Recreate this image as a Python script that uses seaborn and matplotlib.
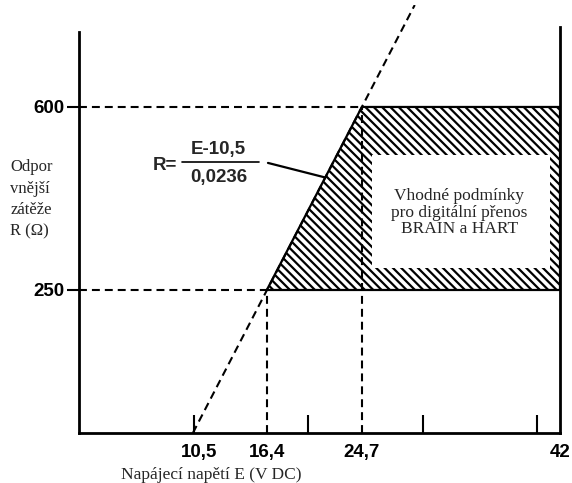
import matplotlib
matplotlib.use('Agg')
import matplotlib.pyplot as plt
import seaborn as sns

# Hodnoty
E_zero = 10.5        # napětí při R = 0
E_250 = 16.4         # napětí při R = 250 Ω
E_600 = 24.7         # napětí při R = 600 Ω
E_max = 42           # maximální napětí
R_low = 250
R_high = 600
E_ticks = [10.5, 16.4, 24.7, 42]
E_tick_labels = ['10,5', '16,4', '24,7', '42']
E_minor_ticks = [10, 20, 30, 40]
R_ticks = [250, 600]
R_tick_labels = ['250', '600']
box_E = [25.6, 41.1]     # bílé pole s textem
box_R = [292, 508]

x_lim = (0, 42)
y_lim = (-23.5, 795)

sns.set_theme(style='white')
plt.rcParams['hatch.linewidth'] = 1.6
plt.rcParams['hatch.color'] = 'black'
sans = ['Liberation Sans', 'DejaVu Sans']
serif = ['Liberation Serif', 'DejaVu Serif']
dash = (0, (3.8, 2.4))

fig = plt.figure(figsize=(5.72, 4.83), dpi=100)
ax = fig.add_axes([79 / 572, 50 / 483, 481 / 572, 428 / 483])
ax.set_xlim(*x_lim)
ax.set_ylim(*y_lim)


def line(xs, ys, style='-', lw=1.5, z=3):
    sns.lineplot(x=xs, y=ys, color='black', linestyle=style, linewidth=lw,
                 estimator=None, sort=False, ax=ax, zorder=z)


# šrafovaná oblast vhodných podmínek
ax.fill([E_250, E_600, E_max, E_max], [R_low, R_high, R_high, R_low],
        facecolor='white', edgecolor='black', hatch='\\\\\\\\', linewidth=1.6, zorder=2)
ax.fill([box_E[0], box_E[1], box_E[1], box_E[0]], [box_R[0], box_R[0], box_R[1], box_R[1]],
        facecolor='white', edgecolor='none', zorder=2.5)

# přímka R = (E - 10,5) / 0,0236
ax.axline((E_zero, 0), (E_600, R_high), color='black', linestyle=dash, linewidth=1.5, zorder=3)

# pomocné čáry
line([0, E_600], [R_high, R_high], dash)
line([0, E_250], [R_low, R_low], dash)
line([E_250, E_250], [y_lim[0], R_low], dash)
line([E_600, E_600], [y_lim[0], R_high], dash)

# osy
ax.spines['top'].set_visible(False)
for side in ['left', 'bottom', 'right']:
    ax.spines[side].set_color('black')
    ax.spines[side].set_linewidth(2)
ax.spines['left'].set_bounds(y_lim[0], 743)
ax.spines['right'].set_bounds(y_lim[0], 753)

ax.set_xticks(E_ticks)
ax.set_xticklabels(E_tick_labels, family=sans, fontsize=13.5, fontweight='bold')
ax.set_xticks(E_minor_ticks, minor=True)
ax.tick_params(axis='x', which='major', length=0, pad=8, colors='black')
ax.tick_params(axis='x', which='minor', direction='in', length=13, width=1.5,
               bottom=True, colors='black')
ax.set_yticks(R_ticks)
ax.set_yticklabels(R_tick_labels, family=sans, fontsize=13.5, fontweight='bold')
ax.tick_params(axis='y', which='major', direction='out', length=8.5, width=1.5,
               left=True, pad=2, colors='black')

ax.set_xlabel('Napájecí napětí E (V DC)', family=serif, fontsize=12.5, va='center')
ax.xaxis.set_label_coords(0.274, -0.098)
ax.set_ylabel('Odpor\nvnější\nzátěže\nR (Ω)', family=serif, fontsize=12, rotation=0,
              ha='left', va='center', multialignment='left', linespacing=1.45)
ax.yaxis.set_label_coords(-0.143, 0.546)

# vzorec
ax.text(8.56, 489, 'R=', family=sans, fontsize=13.5, fontweight='bold',
        ha='right', va='center')
ax.text(12.2, 518, 'E-10,5', family=sans, fontsize=13.5, fontweight='bold',
        ha='center', va='center')
ax.text(12.2, 466, '0,0236', family=sans, fontsize=13.5, fontweight='bold',
        ha='center', va='center')
line([8.99, 15.72], [494.8, 494.8], '-', lw=1.2)
E_lead = 21.48
ax.annotate('', xy=(E_lead, (E_lead - E_zero) / 0.0236), xytext=(16.5, 493),
            arrowprops=dict(arrowstyle='-', color='black', lw=1.6, shrinkA=0, shrinkB=0))

ax.text(33.2, 398, 'Vhodné podmínky\npro digitální přenos\nBRAIN a HART',
        family=serif, fontsize=12.5, ha='center', va='center', linespacing=1.05, zorder=4)

fig.savefig('out.png', dpi=100)
